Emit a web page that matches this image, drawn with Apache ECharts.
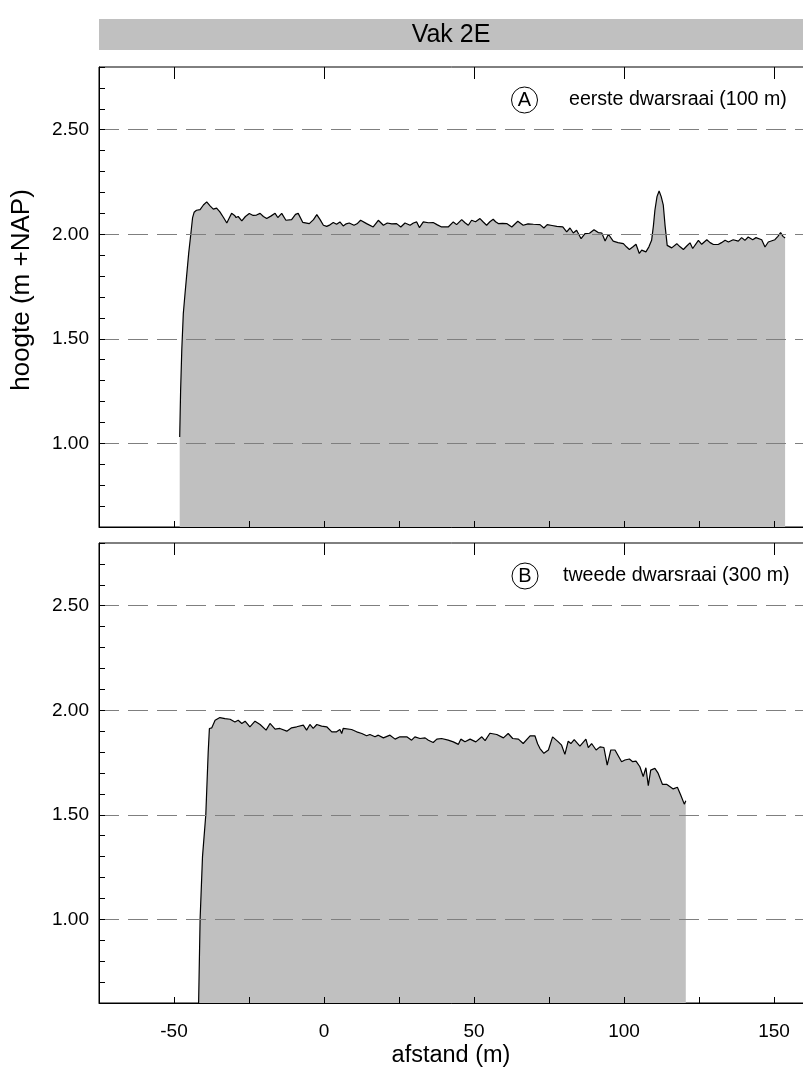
<!DOCTYPE html>
<html>
<head>
<meta charset="utf-8">
<title>Vak 2E</title>
<script src="https://cdn.jsdelivr.net/npm/echarts@6/dist/echarts.min.js"></script>
<style>
  html, body { margin: 0; padding: 0; background: #fff; }
  #chart { width: 803px; height: 1077px; }
</style>
</head>
<body>
<div id="chart"></div>
<script>
// Cross-section A: eerste dwarsraai (100 m) — distance (m) and height (m +NAP)
const distA = [
  -48.1, -47.8, -47.4, -46.9, -46.3, -45.8, -45.1, -44.4, -43.8, -43.3, -42.5, -41.3, -40.2, -39.1, -37.9,
  -36.9, -35.8, -34.7, -33.5, -32.4, -31.5, -30.8, -29.8, -29.3, -28.6, -27.4, -26.2, -24.9, -23.6, -22.5,
  -21.3, -20.2, -19.1, -17.6, -16.3, -15.4, -14.1, -12.7, -10.8, -9.5, -8.6, -7.1, -4.9, -3.5, -2.4,
  -1.3, -0.2, 0.9, 2.0, 3.1, 4.2, 5.3, 6.4, 7.4, 8.4, 10.0, 11.0, 12.2, 14.2, 16.4,
  17.2, 18.1, 19.8, 21.1, 22.6, 24.2, 25.6, 27.0, 28.7, 29.8, 30.9, 31.8, 33.1, 34.8, 36.4,
  37.8, 39.2, 41.4, 43.1, 44.2, 45.9, 47.0, 48.1, 49.2, 50.5, 52.0, 53.0, 54.2, 55.3, 56.4,
  57.2, 58.1, 59.5, 60.9, 62.6, 64.6, 66.4, 68.0, 69.8, 72.0, 73.3, 74.4, 76.0, 77.6, 79.6,
  80.9, 82.0, 83.1, 84.2, 85.7, 87.0, 88.5, 90.0, 91.4, 92.6, 93.7, 94.8, 96.4, 98.0, 99.8,
  100.8, 101.8, 103.0, 104.0, 105.1, 105.9, 107.3, 108.3, 109.2, 109.8, 110.3, 111.0, 111.7, 112.4, 113.1,
  113.7, 114.4, 115.9, 117.6, 118.7, 119.8, 121.0, 122.0, 122.9, 124.8, 125.9, 127.6, 128.7, 129.8, 131.4,
  132.5, 133.7, 134.8, 136.4, 138.1, 139.2, 140.3, 141.4, 142.9, 144.0, 145.9, 147.0, 148.1, 150.3, 151.3,
  152.2, 153.0, 153.7
];
const heightA = [
  1.03, 1.25, 1.45, 1.62, 1.72, 1.80, 1.91, 2.00, 2.08, 2.105, 2.115, 2.118, 2.14, 2.155, 2.135,
  2.12, 2.125, 2.107, 2.08, 2.054, 2.08, 2.10, 2.09, 2.08, 2.085, 2.064, 2.085, 2.099, 2.09, 2.092,
  2.10, 2.085, 2.075, 2.088, 2.10, 2.08, 2.10, 2.067, 2.07, 2.095, 2.10, 2.057, 2.051, 2.07, 2.094,
  2.07, 2.043, 2.038, 2.045, 2.056, 2.048, 2.059, 2.04, 2.05, 2.054, 2.043, 2.05, 2.067, 2.051, 2.035,
  2.05, 2.067, 2.043, 2.054, 2.05, 2.051, 2.035, 2.054, 2.043, 2.054, 2.059, 2.032, 2.059, 2.055, 2.056,
  2.045, 2.035, 2.035, 2.059, 2.046, 2.07, 2.055, 2.043, 2.067, 2.06, 2.075, 2.06, 2.043, 2.06, 2.072,
  2.06, 2.051, 2.052, 2.051, 2.035, 2.062, 2.043, 2.05, 2.048, 2.046, 2.030, 2.046, 2.042, 2.038, 2.035,
  2.011, 2.030, 2.006, 2.019, 1.979, 2.003, 2.005, 2.022, 2.008, 2.006, 1.968, 2.0, 1.967, 1.96, 1.955,
  1.94, 1.927, 1.94, 1.952, 1.908, 1.924, 1.916, 1.94, 1.971, 2.04, 2.115, 2.18, 2.207, 2.18, 2.139,
  2.04, 1.947, 1.935, 1.955, 1.94, 1.927, 1.945, 1.959, 1.932, 1.971, 1.952, 1.974, 1.96, 1.951, 1.951,
  1.96, 1.971, 1.963, 1.974, 1.967, 1.984, 1.971, 1.987, 1.974, 1.984, 1.974, 1.939, 1.963, 1.974, 1.99,
  2.008, 1.99, 1.982
];

// Cross-section B: tweede dwarsraai (300 m)
const distB = [
  -41.8, -41.3, -40.5, -39.4, -38.6, -38.2, -37.4, -36.3, -34.7, -33.0, -31.3, -29.7, -28.6, -27.4, -26.3,
  -24.7, -23.0, -21.3, -19.3, -18.0, -16.3, -14.7, -12.4, -10.8, -9.1, -6.9, -5.8, -4.7, -3.6, -2.4,
  -0.8, 0.9, 2.6, 4.2, 5.3, 5.9, 6.4, 9.2, 10.9, 12.6, 14.2, 15.3, 17.0, 18.1, 19.8,
  22.0, 23.7, 25.3, 27.6, 29.2, 30.3, 32.0, 33.7, 34.8, 36.4, 37.6, 39.2, 41.4, 43.1, 44.8,
  45.6, 47.0, 48.7, 50.6, 52.6, 53.7, 55.3, 57.6, 59.8, 61.4, 62.9, 64.8, 66.4, 68.7, 70.3,
  71.2, 72.0, 73.3, 74.8, 76.2, 78.1, 79.2, 80.3, 81.4, 82.3, 83.4, 85.3, 87.3, 88.1, 89.2,
  90.7, 92.0, 93.3, 94.4, 95.6, 97.0, 99.2, 100.3, 101.8, 102.9, 104.0, 105.3, 106.4, 107.3, 108.1,
  108.9, 110.3, 111.4, 112.8, 114.2, 116.4, 117.8, 118.9, 120.1, 120.6
];
const heightB = [
  0.60, 1.00, 1.30, 1.50, 1.80, 1.913, 1.916, 1.952, 1.965, 1.96, 1.957, 1.944, 1.952, 1.937, 1.948,
  1.921, 1.948, 1.932, 1.905, 1.937, 1.91, 1.913, 1.90, 1.916, 1.921, 1.929, 1.905, 1.932, 1.913, 1.932,
  1.924, 1.921, 1.897, 1.897, 1.908, 1.889, 1.913, 1.908, 1.897, 1.889, 1.878, 1.884, 1.873, 1.881, 1.868,
  1.881, 1.862, 1.873, 1.873, 1.857, 1.873, 1.865, 1.868, 1.857, 1.846, 1.862, 1.865, 1.857, 1.849, 1.837,
  1.862, 1.849, 1.862, 1.849, 1.873, 1.855, 1.89, 1.884, 1.868, 1.889, 1.865, 1.862, 1.841, 1.878, 1.878,
  1.84, 1.817, 1.794, 1.81, 1.873, 1.849, 1.833, 1.789, 1.852, 1.841, 1.86, 1.829, 1.862, 1.821, 1.841,
  1.81, 1.825, 1.822, 1.738, 1.81, 1.81, 1.754, 1.762, 1.767, 1.754, 1.757, 1.73, 1.683, 1.725, 1.64,
  1.714, 1.722, 1.698, 1.646, 1.646, 1.624, 1.632, 1.595, 1.551, 1.567
];

// Axis ticks and labels
const gridValues = [1.0, 1.5, 2.0, 2.5];
const yTickLabels = ['1.00', '1.50', '2.00', '2.50'];
const xLabelValues = [-50, 0, 50, 100, 150];
const xTickLabels = ['-50', '0', '50', '100', '150'];

// Panel texts
const title = 'Vak 2E';
const panelLetters = ['A', 'B'];
const panelTitles = ['eerste dwarsraai (100 m)', 'tweede dwarsraai (300 m)'];
const yName = 'hoogte (m +NAP)';
const xName = 'afstand (m)';

const FONT = 'Liberation Sans, Arial, sans-serif';
const X_MIN = -75, X_MAX = 160, Y_MIN = 0.6, Y_MAX = 2.8;

const dataA = distA.map((d, i) => [d, heightA[i]]);
const dataB = distB.map((d, i) => [d, heightB[i]]);

const grids = [
  { left: 99, top: 67, width: 705, height: 460 },
  { left: 99, top: 543, width: 705, height: 460 }
];

function yLabel(v) {
  const i = gridValues.findIndex(g => Math.abs(g - v) < 1e-6);
  return i >= 0 ? yTickLabels[i] : '';
}
function xLabel(v) {
  const i = xLabelValues.findIndex(g => Math.abs(g - v) < 1e-6);
  return i >= 0 ? xTickLabels[i] : '';
}

const xAxes = [];
const yAxes = [];
grids.forEach((g, gi) => {
  const showLabels = gi === grids.length - 1;
  // minor ticks every 25 m, labels every 50 m
  xAxes.push({
    gridIndex: gi, type: 'value', min: X_MIN, max: X_MAX, interval: 25, z: 10,
    axisLine: { show: true, onZero: false, lineStyle: { color: '#000', width: 1 } },
    axisTick: { show: true, inside: true, length: 6, lineStyle: { color: '#000', width: 1 } },
    axisLabel: { show: showLabels, formatter: xLabel, fontFamily: FONT, fontSize: 19, color: '#000', margin: 19,
                 showMinLabel: true, showMaxLabel: true },
    splitLine: { show: false }
  });
  // longer ticks at the labelled distances
  xAxes.push({
    gridIndex: gi, type: 'value', min: X_MIN, max: X_MAX, z: 10,
    axisLine: { show: false },
    axisTick: { show: true, inside: true, length: 12, customValues: xLabelValues, lineStyle: { color: '#000', width: 1 } },
    axisLabel: { show: false },
    splitLine: { show: false }
  });
  yAxes.push({
    gridIndex: gi, type: 'value', min: Y_MIN, max: Y_MAX, interval: 0.1, z: 10,
    axisLine: { show: true, onZero: false, lineStyle: { color: '#000', width: 1 } },
    axisTick: { show: true, inside: true, length: 6, lineStyle: { color: '#000', width: 1 } },
    axisLabel: { formatter: yLabel, fontFamily: FONT, fontSize: 19, color: '#000', margin: 10 },
    splitLine: { show: false }
  });
});

function profileSeries(data, gi) {
  return {
    type: 'line',
    xAxisIndex: gi * 2,
    yAxisIndex: gi,
    data: data,
    symbol: 'none',
    showSymbol: false,
    smooth: false,
    lineStyle: { color: '#000', width: 1.2 },
    areaStyle: { color: '#c0c0c0', opacity: 1, origin: 'start' },
    silent: true,
    markLine: {
      silent: true,
      symbol: 'none',
      z: 5,
      label: { show: false },
      lineStyle: { color: '#7f7f7f', type: [20, 9], width: 1 },
      emphasis: { disabled: true },
      data: gridValues.map(v => ({ yAxis: v }))
    }
  };
}

const graphics = [
  { type: 'rect', shape: { x: 99, y: 19, width: 705, height: 31 }, style: { fill: '#c0c0c0' } },
  { type: 'text', x: 451, y: 35, style: { text: title, font: '25px ' + FONT, fill: '#000', align: 'center', verticalAlign: 'middle' } },
  { type: 'text', x: 22, y: 290, rotation: Math.PI / 2,
    style: { text: yName, font: '26px ' + FONT, fill: '#000', align: 'center', verticalAlign: 'middle' } },
  { type: 'text', x: 451, y: 1056, style: { text: xName, font: '23.5px ' + FONT, fill: '#000', align: 'center', verticalAlign: 'middle' } }
];
const circleX = [524.5, 525];
const textX = [569, 563];
grids.forEach((g, gi) => {
  const cy = g.top + 33;
  graphics.push({ type: 'circle', shape: { cx: circleX[gi], cy: cy, r: 13 }, style: { fill: '#fff', stroke: '#000', lineWidth: 1 } });
  graphics.push({ type: 'text', x: circleX[gi], y: cy + 0.5, style: { text: panelLetters[gi], font: '20px ' + FONT, fill: '#000', align: 'center', verticalAlign: 'middle' } });
  graphics.push({ type: 'text', x: textX[gi], y: cy, style: { text: panelTitles[gi], font: '19.6px ' + FONT, fill: '#000', align: 'left', verticalAlign: 'middle' } });
});

const chart = echarts.init(document.getElementById('chart'), null, { renderer: 'canvas' });
chart.setOption({
  animation: false,
  backgroundColor: '#fff',
  grid: grids.map(g => Object.assign({ show: true, borderColor: '#000', borderWidth: 1, backgroundColor: 'transparent', outerBoundsMode: 'none' }, g)),
  xAxis: xAxes,
  yAxis: yAxes,
  series: [profileSeries(dataA, 0), profileSeries(dataB, 1)],
  graphic: graphics
});
</script>
</body>
</html>
